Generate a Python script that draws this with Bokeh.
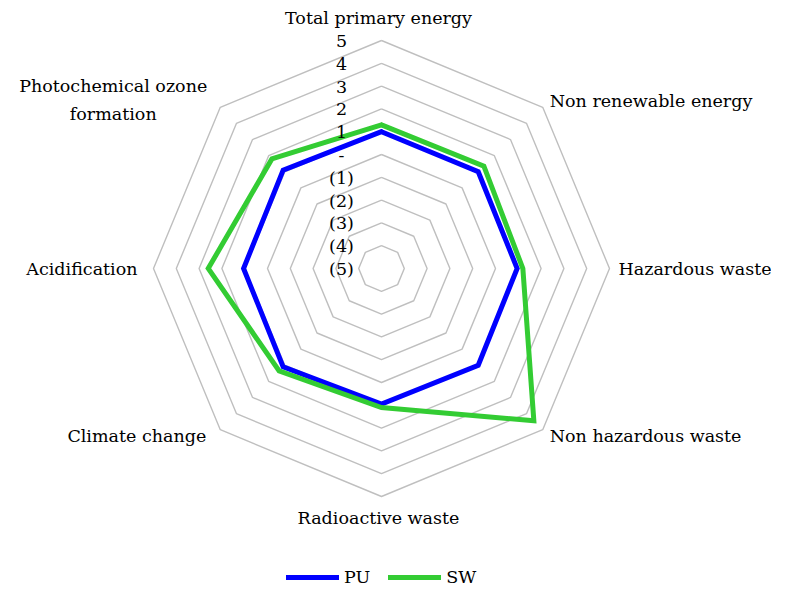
import numpy as np
from bokeh.plotting import figure
from bokeh.models import Range1d, ColumnDataSource, Legend, LegendItem
from bokeh.embed import file_html
from bokeh.resources import INLINE
from bokeh.core.properties import value

# ---- data ----
categories = ["Total primary energy", "Non renewable energy", "Hazardous waste",
              "Non hazardous waste", "Radioactive waste", "Climate change",
              "Acidification", "Photochemical ozone\nformation"]
pu = [1.0, 1.0, 0.95, 1.0, 0.95, 1.1, 1.05, 1.1]
sw = [1.3, 1.35, 1.2, 4.45, 1.1, 1.35, 2.6, 1.8]
tick_values = [5, 4, 3, 2, 1, 0, -1, -2, -3, -4, -5]
tick_labels = ["5", "4", "3", "2", "1", "-", "(1)", "(2)", "(3)", "(4)", "(5)"]
axis_min, axis_max = -5, 5

# ---- layout ----
W, H = 771, 587
S = 22.8            # px per value unit
CX, CY = 381.0, 268.0
FONT = "DejaVu Serif"
FS = "17.5px"

p = figure(width=W, height=H, output_backend="svg", toolbar_location=None,
           x_range=Range1d(-CX / S, (W - CX) / S),
           y_range=Range1d(-(H - CY) / S, CY / S),
           min_border=0, outline_line_color=None)
p.xaxis.visible = False
p.yaxis.visible = False
p.grid.visible = False
p.background_fill_color = "white"
p.border_fill_color = "white"

n = len(categories)
theta = np.arange(n) * 2 * np.pi / n


def polar(vals):
    r = np.asarray(vals, dtype=float) - axis_min
    xs = r * np.sin(theta)
    ys = r * np.cos(theta)
    return list(xs) + [xs[0]], list(ys) + [ys[0]]


# rings
ring_xs, ring_ys = [], []
for t in tick_values:
    if t == axis_min:
        continue
    xs, ys = polar([t] * n)
    ring_xs.append(xs)
    ring_ys.append(ys)
p.multi_line(ring_xs, ring_ys, line_color="#BFBFBF", line_width=1.4)

# series
xs, ys = polar(pu)
r_pu = p.line(xs, ys, line_color="#0000FF", line_width=5, line_join="miter", line_cap="round")
xs, ys = polar(sw)
r_sw = p.line(xs, ys, line_color="#33CC33", line_width=5, line_join="miter", line_cap="round")

# tick labels
tsrc = ColumnDataSource(dict(x=[0] * len(tick_values),
                             y=[t - axis_min for t in tick_values],
                             text=tick_labels))
p.text(x="x", y="y", text="text", source=tsrc, x_offset=-40, y_offset=0.5,
       text_align="center", text_baseline="middle",
       text_font=value(FONT), text_font_size=FS, text_color="#000000")

# category labels
rmax = axis_max - axis_min
specs = [("center", -3, -22.5),
         ("left", 7, -6.6),
         ("left", 9, 0.5),
         ("left", 7, 6.6),
         ("center", -3, 21.5),
         ("right", -14, 6.6),
         ("right", -16, 0.5),
         None]
for i, cat in enumerate(categories):
    x = rmax * np.sin(theta[i])
    y = rmax * np.cos(theta[i])
    if specs[i] is not None:
        al, dx, dy = specs[i]
        p.text(x=[x], y=[y], text=[cat], x_offset=dx, y_offset=dy,
               text_align=al, text_baseline="middle",
               text_font=value(FONT), text_font_size=FS, text_color="#000000")
    else:
        p.text(x=[x], y=[y], text=[cat], x_offset=-13, y_offset=-7.6,
               text_align="center", anchor="center_right", text_line_height=1.4,
               text_font=value(FONT), text_font_size=FS, text_color="#000000")

legend = Legend(items=[LegendItem(label="PU", renderers=[r_pu]),
                       LegendItem(label="SW", renderers=[r_sw])],
                orientation="horizontal", location=(int(CX - 95), 0),
                glyph_width=53, glyph_height=14, label_height=14,
                label_standoff=5, spacing=18, padding=0, margin=0,
                border_line_color=None, background_fill_alpha=0,
                label_text_font=FONT, label_text_font_size=FS,
                label_text_color="#000000")
p.add_layout(legend)

open("out.html", "w").write(file_html(p, INLINE))
